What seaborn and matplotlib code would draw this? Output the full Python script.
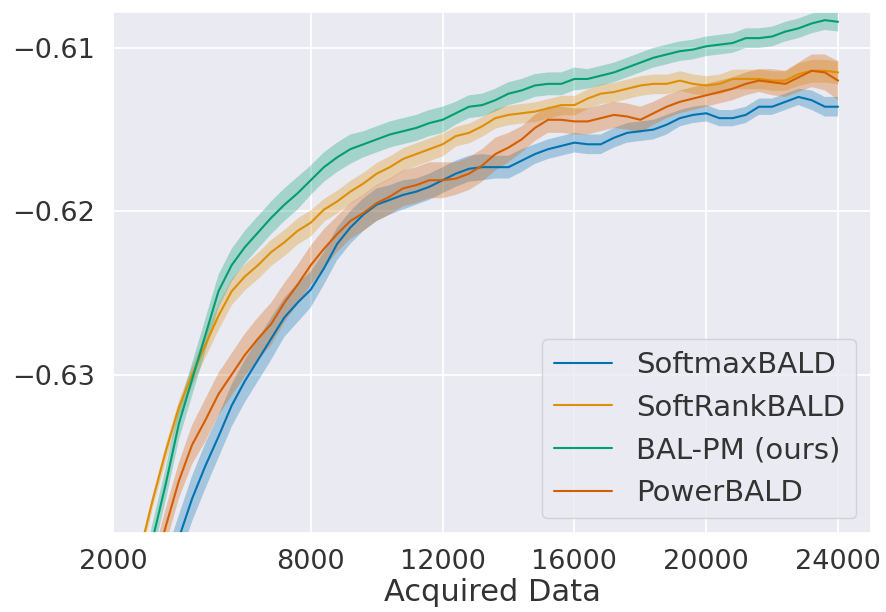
import numpy as np
import pandas as pd
import matplotlib
matplotlib.use("Agg")
import matplotlib.pyplot as plt
import seaborn as sns

# ---------------- data ----------------
acquired = [2400, 2800, 3200, 3600, 4000, 4400, 4800, 5200, 5600, 6000,
            6400, 6800, 7200, 7600, 8000, 8400, 8800, 9200, 9600, 10000,
            10400, 10800, 11200, 11600, 12000, 12400, 12800, 13200, 13600, 14000,
            14400, 14800, 15200, 15600, 16000, 16400, 16800, 17200, 17600, 18000,
            18400, 18800, 19200, 19600, 20000, 20400, 20800, 21200, 21600, 22000,
            22400, 22800, 23200, 23600, 24000]

methods = ["SoftmaxBALD", "SoftRankBALD", "BAL-PM (ours)", "PowerBALD"]

softmax_bald = [-0.6510, -0.6474, -0.6448, -0.6424, -0.6400, -0.6376, -0.6356, -0.6338, -0.6319, -0.6304,
                -0.6291, -0.6278, -0.6265, -0.6256, -0.6248, -0.6235, -0.6220, -0.6210, -0.6202, -0.6196,
                -0.6193, -0.6190, -0.6188, -0.6185, -0.6181, -0.6177, -0.6174, -0.6173, -0.6173, -0.6173,
                -0.6169, -0.6165, -0.6162, -0.6160, -0.6158, -0.6159, -0.6159, -0.6155, -0.6152, -0.6151,
                -0.6150, -0.6147, -0.6143, -0.6141, -0.6140, -0.6143, -0.6143, -0.6141, -0.6136, -0.6136,
                -0.6133, -0.6130, -0.6132, -0.6136, -0.6136]

softrank_bald = [-0.6448, -0.6410, -0.6377, -0.6347, -0.6320, -0.6300, -0.6282, -0.6264, -0.6249, -0.6240,
                 -0.6233, -0.6225, -0.6219, -0.6212, -0.6207, -0.6199, -0.6194, -0.6188, -0.6183, -0.6177,
                 -0.6173, -0.6168, -0.6165, -0.6162, -0.6159, -0.6154, -0.6152, -0.6148, -0.6143, -0.6141,
                 -0.6140, -0.6139, -0.6137, -0.6135, -0.6135, -0.6131, -0.6128, -0.6127, -0.6125, -0.6123,
                 -0.6122, -0.6122, -0.6120, -0.6122, -0.6123, -0.6122, -0.6119, -0.6119, -0.6119, -0.6120,
                 -0.6120, -0.6116, -0.6114, -0.6114, -0.6115]

bal_pm = [-0.6478, -0.6438, -0.6401, -0.6367, -0.6330, -0.6303, -0.6276, -0.6249, -0.6233, -0.6222,
          -0.6213, -0.6204, -0.6196, -0.6189, -0.6181, -0.6173, -0.6167, -0.6162, -0.6159, -0.6156,
          -0.6153, -0.6151, -0.6149, -0.6146, -0.6144, -0.6140, -0.6136, -0.6135, -0.6132, -0.6128,
          -0.6126, -0.6123, -0.6122, -0.6122, -0.6119, -0.6119, -0.6117, -0.6115, -0.6112, -0.6109,
          -0.6106, -0.6104, -0.6102, -0.6101, -0.6099, -0.6098, -0.6097, -0.6094, -0.6094, -0.6093,
          -0.6090, -0.6088, -0.6085, -0.6083, -0.6084]

power_bald = [-0.6480, -0.6452, -0.6423, -0.6393, -0.6365, -0.6343, -0.6328, -0.6312, -0.6300, -0.6288,
              -0.6278, -0.6269, -0.6256, -0.6245, -0.6233, -0.6223, -0.6214, -0.6206, -0.6201, -0.6195,
              -0.6191, -0.6186, -0.6184, -0.6181, -0.6181, -0.6180, -0.6177, -0.6172, -0.6165, -0.6161,
              -0.6156, -0.6149, -0.6144, -0.6144, -0.6145, -0.6145, -0.6143, -0.6141, -0.6142, -0.6144,
              -0.6140, -0.6136, -0.6133, -0.6131, -0.6129, -0.6127, -0.6125, -0.6122, -0.6120, -0.6121,
              -0.6122, -0.6118, -0.6114, -0.6115, -0.6120]

# half-width of the shaded band, in units of 1e-4
softmax_hw = [14, 14, 14, 14, 14, 14, 14, 13, 13, 13, 13, 13, 12, 12, 11, 10, 10, 10, 10, 10,
              9, 9, 8, 8, 8, 8, 8, 8, 7, 7, 7, 6, 6, 6, 6, 6, 6, 6, 6, 6,
              6, 6, 5, 5, 5, 5, 5, 5, 5, 5, 5, 5, 6, 6, 6]
softrank_hw = [4, 4, 4, 5, 5, 6, 7, 8, 8, 8, 8, 8, 8, 8, 8, 7, 7, 7, 7, 7,
               7, 7, 7, 7, 7, 6, 6, 6, 6, 6, 6, 6, 6, 6, 6, 6, 6, 6, 6, 6,
               6, 6, 6, 6, 6, 6, 6, 6, 6, 6, 6, 7, 7, 7, 7]
balpm_hw = [10, 10, 10, 10, 10, 10, 10, 10, 10, 10, 10, 10, 10, 10, 9, 9, 9, 9, 8, 8,
            8, 8, 8, 8, 8, 7, 7, 7, 7, 7, 7, 7, 7, 7, 7, 6, 6, 6, 6, 6,
            6, 6, 6, 6, 6, 6, 6, 6, 6, 6, 6, 6, 6, 6, 6]
power_hw = [11, 11, 11, 11, 11, 12, 13, 13, 13, 13, 13, 13, 12, 12, 12, 12, 11, 11, 11, 11,
            11, 11, 11, 11, 11, 10, 10, 10, 10, 9, 8, 8, 8, 8, 8, 8, 8, 8, 8, 8,
            7, 7, 7, 7, 7, 7, 7, 7, 7, 8, 8, 9, 10, 11, 12]

x_ticks = [2000, 8000, 12000, 16000, 20000, 24000]
x_tick_labels = ["2000", "8000", "12000", "16000", "20000", "24000"]
y_ticks = [-0.63, -0.62, -0.61]
y_tick_labels = ["\u22120.63", "\u22120.62", "\u22120.61"]

# ---------------- build long-form table ----------------
series = {
    "SoftmaxBALD": (softmax_bald, softmax_hw),
    "SoftRankBALD": (softrank_bald, softrank_hw),
    "BAL-PM (ours)": (bal_pm, balpm_hw),
    "PowerBALD": (power_bald, power_hw),
}
rows = []
for name in methods:
    means, hws = series[name]
    for xv, m, h in zip(acquired, means, hws):
        hw = h * 1e-4
        for v in (m - hw, m, m + hw):
            rows.append({"Acquired Data": xv, "value": v, "method": name})
df = pd.DataFrame(rows)

# ---------------- plot ----------------
sns.set_theme(style="darkgrid")
plt.rcParams["font.family"] = ["DejaVu Sans"]
plt.rcParams["grid.linewidth"] = 1.3

palette = sns.color_palette("colorblind", 4)

fig = plt.figure(figsize=(8.87, 6.12), dpi=100)
ax = fig.add_axes([0.1274, 0.1291, 0.8546, 0.8513])

sns.lineplot(data=df, x="Acquired Data", y="value", hue="method",
             hue_order=methods, palette=palette, estimator="mean",
             errorbar=("pi", 100), err_kws={"alpha": 0.3, "linewidth": 0},
             linewidth=1.5, ax=ax)

ax.set_xlim(2000, 25000)
ax.set_ylim(-0.6397, -0.6078)
ax.set_xticks(x_ticks)
ax.set_xticklabels(x_tick_labels)
ax.set_yticks(y_ticks)
ax.set_yticklabels(y_tick_labels)
ax.tick_params(axis="both", labelsize=19.5, length=0, colors="#333333")
ax.tick_params(axis="x", pad=11.5)
ax.tick_params(axis="y", pad=13)
ax.set_xlabel("Acquired Data", fontsize=22, labelpad=2, color="#333333")
ax.set_ylabel("")

handles, labels = ax.get_legend_handles_labels()
leg = ax.legend(handles, labels, loc="lower right", fontsize=21, frameon=True)
for t in leg.get_texts():
    t.set_color("#333333")

fig.savefig("out.png", dpi=100)
